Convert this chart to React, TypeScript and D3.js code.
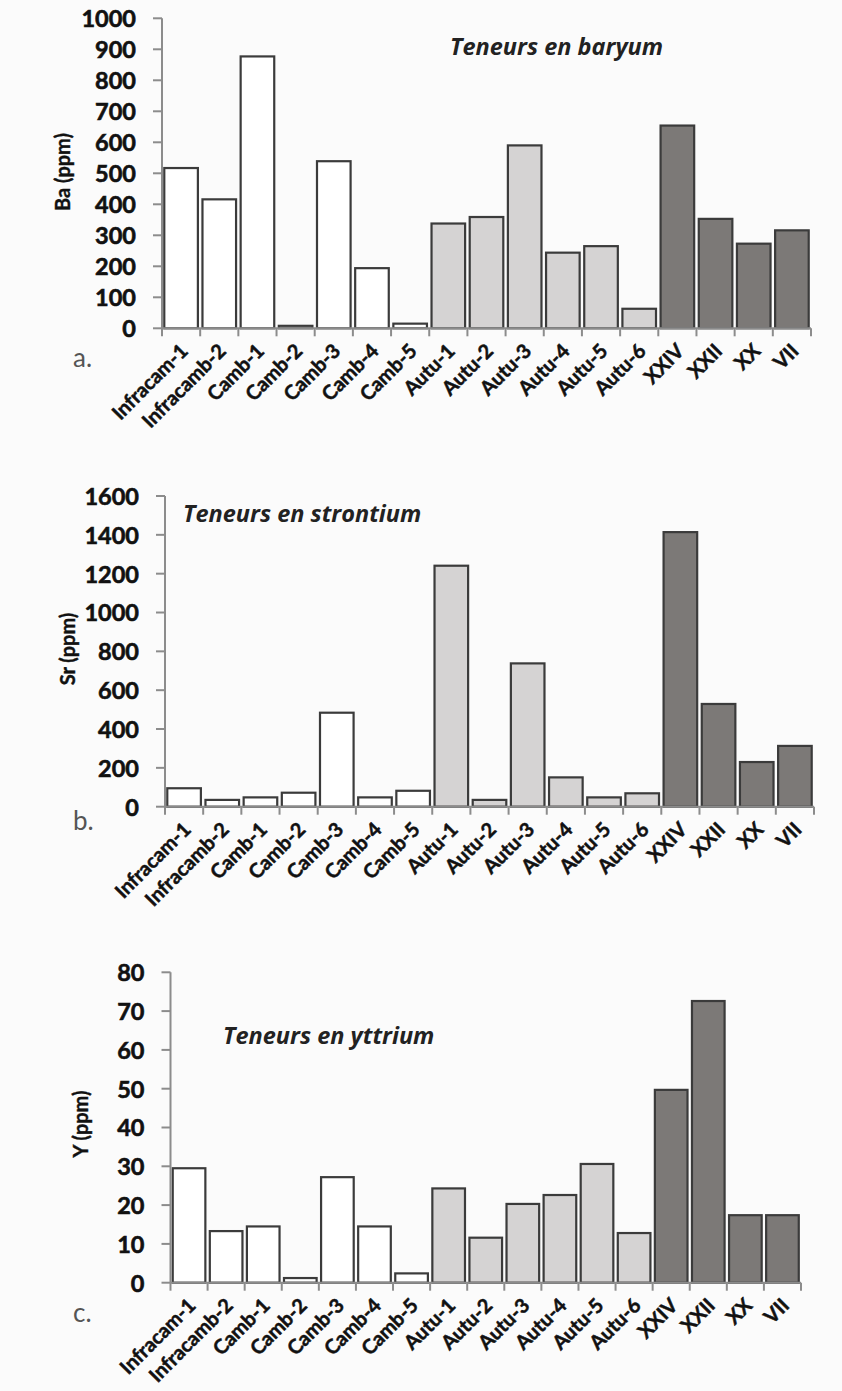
import React from "react";
import * as d3 from "d3";

const categories = [
  "Infracam-1", "Infracamb-2", "Camb-1", "Camb-2", "Camb-3", "Camb-4", "Camb-5",
  "Autu-1", "Autu-2", "Autu-3", "Autu-4", "Autu-5", "Autu-6",
  "XXIV", "XXII", "XX", "VII",
];
const groups = [
  "cam", "cam", "cam", "cam", "cam", "cam", "cam",
  "autu", "autu", "autu", "autu", "autu", "autu",
  "roman", "roman", "roman", "roman",
];
const baValues = [517, 416, 877, 8, 539, 194, 15, 338, 359, 590, 244, 265, 63, 654, 353, 273, 316];
const srValues = [95, 35, 48, 72, 484, 48, 82, 1241, 35, 738, 151, 48, 69, 1414, 529, 230, 313];
const yValues = [29.5, 13.3, 14.5, 1.2, 27.2, 14.5, 2.4, 24.3, 11.6, 20.3, 22.6, 30.6, 12.8, 49.7, 72.6, 17.4, 17.4];
const baTicks = [0, 100, 200, 300, 400, 500, 600, 700, 800, 900, 1000];
const srTicks = [0, 200, 400, 600, 800, 1000, 1200, 1400, 1600];
const yTicks = [0, 10, 20, 30, 40, 50, 60, 70, 80];

const fills: Record<string, string> = { cam: "#ffffff", autu: "#d5d3d3", roman: "#7c7977" };

type PanelProps = {
  values: number[];
  ticks: number[];
  x0: number; x1: number; yTop: number; yBottom: number;
  title: string; titleX: number; titleY: number;
  yLabel: string; yLabelX: number; yLabelY: number;
  letter: string; letterY: number;
};

function Panel(p: PanelProps) {
  const x = d3.scaleBand<string>().domain(categories).range([p.x0, p.x1]).paddingInner(0.12).paddingOuter(0.06);
  const max = p.ticks[p.ticks.length - 1];
  const y = d3.scaleLinear().domain([0, max]).range([p.yBottom, p.yTop]);
  const step = x.step();
  const bounds = d3.range(categories.length + 1).map((i) => p.x0 + i * step);
  const axisColor = "#8c8c8c";
  return (
    <g>
      {categories.map((c, i) => (
        <rect key={c} x={x(c)} y={y(p.values[i])} width={x.bandwidth()} height={y(0) - y(p.values[i])}
          fill={fills[groups[i]]} stroke="#3b3b3b" strokeWidth={2.2} />
      ))}
      <line x1={p.x0} x2={p.x0} y1={y(max)} y2={y(0)} stroke={axisColor} strokeWidth={2} />
      <line x1={p.x0} x2={p.x1} y1={y(0)} y2={y(0)} stroke={axisColor} strokeWidth={2} />
      {p.ticks.map((t) => (
        <g key={t}>
          <line x1={p.x0 - 9} x2={p.x0} y1={y(t)} y2={y(t)} stroke={axisColor} strokeWidth={2} />
          <text x={p.x0 - 26} y={y(t)} dy="0.38em" textAnchor="end" fontFamily="Lato" fontWeight={700}
            fontSize={23.5} fill="#111" stroke="#111" strokeWidth={0.6}>{t}</text>
        </g>
      ))}
      {bounds.map((b, i) => (
        <line key={i} x1={b} x2={b} y1={y(0)} y2={y(0) + 8} stroke={axisColor} strokeWidth={2} />
      ))}
      {categories.map((c) => {
        const cx = (x(c) as number) + x.bandwidth() / 2;
        const ay = y(0) + 24;
        return (
          <text key={c} transform={`translate(${cx + 8},${ay}) rotate(-45)`} textAnchor="end"
            fontFamily="Lato" fontWeight={700} fontSize={20} fill="#111" stroke="#111" strokeWidth={0.5}>{c}</text>
        );
      })}
      <text x={p.titleX} y={p.titleY} fontFamily="Open Sans" fontWeight={700} fontStyle="italic"
        fontSize={23.5} fill="#222">{p.title}</text>
      <text transform={`translate(${p.yLabelX},${p.yLabelY}) rotate(-90)`} textAnchor="middle" dy="0.35em"
        fontFamily="Lato" fontWeight={700} fontSize={20} fill="#111" stroke="#111" strokeWidth={0.4}>{p.yLabel}</text>
      <text x={73} y={p.letterY} fontFamily="Lato" fontSize={26} fill="#555">{p.letter}</text>
    </g>
  );
}

export default function App() {
  return (
    <div style={{ position: "absolute", left: 0, top: 0 }}>
      <svg width={842} height={1391} style={{ display: "block", background: "#fbfbfb" }}>
        <Panel values={baValues} ticks={baTicks} x0={162} x1={811} yTop={18.3} yBottom={328.3}
          title="Teneurs en baryum" titleX={450} titleY={55}
          yLabel="Ba (ppm)" yLabelX={63} yLabelY={172} letter="a." letterY={367} />
        <Panel values={srValues} ticks={srTicks} x0={165} x1={814} yTop={496} yBottom={806.7}
          title="Teneurs en strontium" titleX={183} titleY={522}
          yLabel="Sr (ppm)" yLabelX={68} yLabelY={649} letter="b." letterY={830} />
        <Panel values={yValues} ticks={yTicks} x0={170.5} x1={801} yTop={972.3} yBottom={1282.7}
          title="Teneurs en yttrium" titleX={223} titleY={1044}
          yLabel="Y (ppm)" yLabelX={81} yLabelY={1124} letter="c." letterY={1322} />
      </svg>
    </div>
  );
}
